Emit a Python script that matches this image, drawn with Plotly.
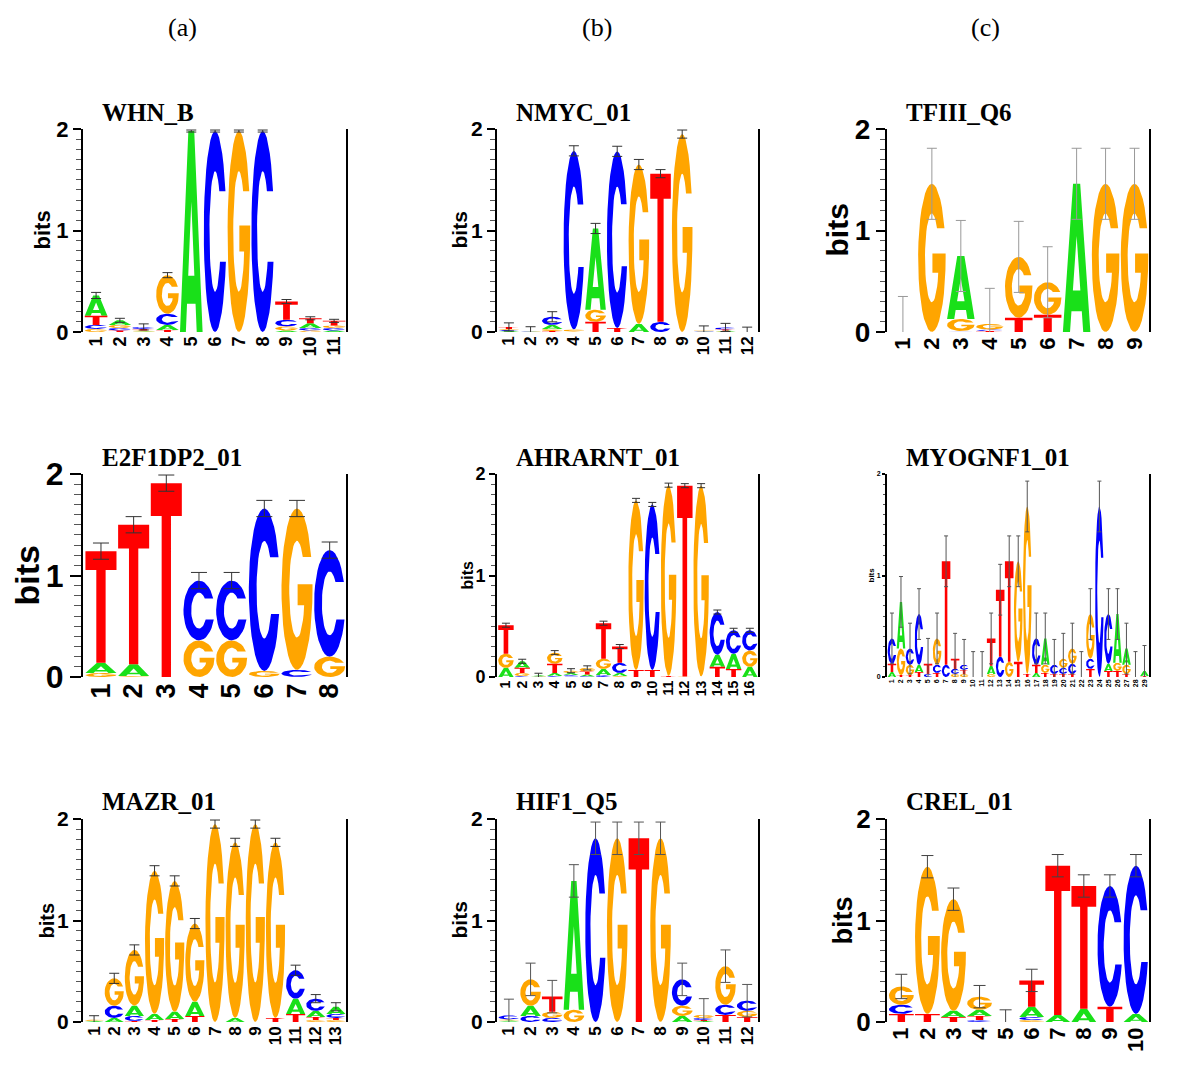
import numpy as np
import plotly.graph_objects as go

W, H = 1198, 1092          # reference picture size (pixels)
OFF = 8                    # browser body margin
FW, FH = W - OFF, H - OFF  # figure size

# ------------------------------------------------------------------ data
# heights (bits) of each letter at each position, plus error half-widths
WHN_B_A = [0.20, 0.045, 0.005, 0.05, 1.98, 0, 0, 0, 0.015, 0.045, 0.015]
WHN_B_C = [0.04, 0.025, 0.02, 0.11, 0, 1.98, 0, 1.98, 0.065, 0.025, 0.025]
WHN_B_G = [0.03, 0.03, 0.01, 0.38, 0, 0, 1.98, 0, 0.04, 0.015, 0.025]
WHN_B_T = [0.09, 0.015, 0.015, 0.02, 0, 0, 0, 0, 0.18, 0.05, 0.045]
WHN_B_ERR = [0.03, 0.02, 0.03, 0.025, 0.01, 0.01, 0.01, 0.01, 0.02, 0.015, 0.015]

NMYC_01_A = [0.01, 0.003, 0.04, 0, 0.80, 0, 0.08, 0, 0, 0.003, 0.01, 0.002]
NMYC_01_C = [0.01, 0.005, 0.08, 1.76, 0, 1.74, 0, 0.10, 0, 0.005, 0.02, 0.002]
NMYC_01_G = [0.01, 0.002, 0.02, 0.02, 0.12, 0, 1.57, 0, 1.95, 0.005, 0.005, 0.002]
NMYC_01_T = [0.02, 0.002, 0.01, 0.005, 0.10, 0.04, 0, 1.46, 0, 0.007, 0.01, 0.002]
NMYC_01_ERR = [0.04, 0.04, 0.05, 0.05, 0.05, 0.05, 0.05, 0.04, 0.04, 0.04, 0.04, 0.04]

TFIII_Q6_A = [0, 0, 0.62, 0, 0, 0, 1.46, 0, 0]
TFIII_Q6_C = [0, 0, 0.005, 0.015, 0, 0, 0, 0, 0]
TFIII_Q6_G = [0, 1.46, 0.12, 0.055, 0.60, 0.32, 0, 1.46, 1.46]
TFIII_Q6_T = [0, 0, 0.004, 0.01, 0.14, 0.17, 0, 0, 0]
TFIII_Q6_ERR = [0.35] * 9

E2F1DP2_01_A = [0.10, 0.115, 0, 0, 0, 0, 0, 0]
E2F1DP2_01_C = [0, 0, 0, 0.59, 0.59, 1.60, 0.07, 1.05]
E2F1DP2_01_G = [0.04, 0.01, 0, 0.36, 0.36, 0.06, 1.59, 0.20]
E2F1DP2_01_T = [1.10, 1.375, 1.91, 0, 0, 0, 0, 0]
E2F1DP2_01_ERR = [0.08] * 8

AHRARNT_01_A = [0.09, 0.065, 0.01, 0.03, 0.02, 0.02, 0.06, 0.03, 0, 0, 0, 0, 0, 0.12, 0.15, 0.10]
AHRARNT_01_C = [0, 0.01, 0.003, 0.01, 0.015, 0.005, 0.02, 0.10, 0, 1.63, 0, 0, 0, 0.42, 0.23, 0.20]
AHRARNT_01_G = [0.14, 0.03, 0.002, 0.11, 0.022, 0.035, 0.10, 0.01, 1.67, 0, 1.88, 0.005, 1.88, 0, 0, 0.16]
AHRARNT_01_T = [0.28, 0.05, 0.002, 0.09, 0.005, 0.03, 0.35, 0.16, 0.07, 0.07, 0.01, 1.88, 0.005, 0.10, 0.08, 0]
AHRARNT_01_ERR = [0.02] * 16

MYOGNF1_01_A = [0.05, 0.46, 0, 0.07, 0, 0, 0, 0, 0, 0, 0, 0.08, 0, 0, 0,
                0, 0.04, 0.26, 0, 0, 0, 0, 0, 0, 0.07, 0.48, 0.16, 0, 0.05]
MYOGNF1_01_C = [0.25, 0, 0.16, 0.50, 0.03, 0.08, 0.12, 0.05, 0.05, 0, 0, 0, 0.20, 0, 0,
                0, 0.26, 0, 0.09, 0.06, 0.10, 0, 0.10, 1.68, 0.49, 0, 0, 0, 0]
MYOGNF1_01_G = [0, 0.26, 0.10, 0, 0, 0.26, 0, 0.03, 0.03, 0, 0, 0.03, 0, 0.15, 0.99,
                1.65, 0, 0.08, 0, 0.09, 0.15, 0, 0.44, 0, 0, 0.08, 0.09, 0, 0]
MYOGNF1_01_T = [0.08, 0.02, 0.02, 0.05, 0.10, 0.04, 1.02, 0.10, 0.04, 0, 0, 0.27, 0.66, 0.99, 0.15,
                0.03, 0.08, 0.04, 0.03, 0.03, 0.03, 0, 0.08, 0, 0.06, 0.06, 0.03, 0, 0.01]
MYOGNF1_01_ERR = [0.25] * 29

MAZR_01_A = [0.01, 0.04, 0.10, 0.06, 0.07, 0.14, 0, 0.04, 0, 0, 0.15, 0.06, 0.07]
MAZR_01_C = [0, 0.12, 0.05, 0, 0, 0, 0, 0, 0, 0, 0.28, 0.12, 0.04]
MAZR_01_G = [0.01, 0.27, 0.55, 1.41, 1.29, 0.77, 1.95, 1.73, 1.95, 1.73, 0, 0.02, 0.02]
MAZR_01_T = [0.002, 0, 0.01, 0.02, 0.03, 0.06, 0, 0, 0, 0.04, 0.08, 0.03, 0.02]
MAZR_01_ERR = [0.04, 0.05, 0.05, 0.05, 0.05, 0.05, 0.04, 0.04, 0.04, 0.04, 0.05, 0.04, 0.04]

HIF1_Q5_A = [0.01, 0.10, 0, 1.27, 0, 0, 0, 0, 0.06, 0.01, 0, 0]
HIF1_Q5_C = [0.04, 0.06, 0.04, 0, 1.81, 0, 0, 0, 0.26, 0.02, 0.10, 0.10]
HIF1_Q5_G = [0.01, 0.26, 0.06, 0.12, 0, 1.81, 0, 1.81, 0.10, 0.03, 0.38, 0.06]
HIF1_Q5_T = [0.005, 0, 0.15, 0, 0, 0, 1.81, 0, 0, 0.01, 0.07, 0.05]
HIF1_Q5_ERR = [0.16] * 12

CREL_01_A = [0, 0, 0.06, 0.06, 0, 0.10, 0.07, 0.13, 0, 0.08]
CREL_01_C = [0.09, 0, 0, 0.02, 0, 0.03, 0, 0, 1.19, 1.46]
CREL_01_G = [0.18, 1.45, 1.10, 0.13, 0, 0.02, 0, 0, 0, 0]
CREL_01_T = [0.08, 0.08, 0.05, 0.04, 0, 0.26, 1.47, 1.21, 0.15, 0]
CREL_01_ERR = [0.12, 0.11, 0.11, 0.11, 0.12, 0.11, 0.11, 0.11, 0.11, 0.11]

PANEL_NAMES = ["WHN_B", "NMYC_01", "TFIII_Q6",
               "E2F1DP2_01", "AHRARNT_01", "MYOGNF1_01",
               "MAZR_01", "HIF1_Q5", "CREL_01"]
COLUMN_LABELS = ["(a)", "(b)", "(c)"]

DATA = {
    "WHN_B": (WHN_B_A, WHN_B_C, WHN_B_G, WHN_B_T, WHN_B_ERR),
    "NMYC_01": (NMYC_01_A, NMYC_01_C, NMYC_01_G, NMYC_01_T, NMYC_01_ERR),
    "TFIII_Q6": (TFIII_Q6_A, TFIII_Q6_C, TFIII_Q6_G, TFIII_Q6_T, TFIII_Q6_ERR),
    "E2F1DP2_01": (E2F1DP2_01_A, E2F1DP2_01_C, E2F1DP2_01_G, E2F1DP2_01_T, E2F1DP2_01_ERR),
    "AHRARNT_01": (AHRARNT_01_A, AHRARNT_01_C, AHRARNT_01_G, AHRARNT_01_T, AHRARNT_01_ERR),
    "MYOGNF1_01": (MYOGNF1_01_A, MYOGNF1_01_C, MYOGNF1_01_G, MYOGNF1_01_T, MYOGNF1_01_ERR),
    "MAZR_01": (MAZR_01_A, MAZR_01_C, MAZR_01_G, MAZR_01_T, MAZR_01_ERR),
    "HIF1_Q5": (HIF1_Q5_A, HIF1_Q5_C, HIF1_Q5_G, HIF1_Q5_T, HIF1_Q5_ERR),
    "CREL_01": (CREL_01_A, CREL_01_C, CREL_01_G, CREL_01_T, CREL_01_ERR),
}

# ------------------------------------------------------------------ style
COLORS = {"A": "#19E019", "C": "#0000FF", "G": "#FFA500", "T": "#FF0000"}
LETTERS = ["A", "C", "G", "T"]

# pixel layout of plot areas (reference picture coordinates)
COL_X = [(83, 346), (497, 758), (887, 1149)]
ROW_Y = [(129, 332), (474, 677), (819, 1022)]
TITLE_Y = [113, 457, 801]
HEADER_X = [182, 597, 985]
HEADER_Y = 27

# per-panel: ytick size, xtick size, bits size, bits offset, err color, cap, ticklen
STYLE = {
    "WHN_B":      (22, 18, 22, 41, "#333333", 5, 8),
    "NMYC_01":    (21, 17, 21, 38, "#333333", 5, 8),
    "TFIII_Q6":   (28, 22, 30, 50, "#999999", 5, 9),
    "E2F1DP2_01": (32, 27, 34, 57, "#333333", 8, 11),
    "AHRARNT_01": (18, 14, 16, 30, "#333333", 4, 6),
    "MYOGNF1_01": (7, 7, 8, 16, "#555555", 2, 3),
    "MAZR_01":    (21, 17, 20, 37, "#333333", 5, 8),
    "HIF1_Q5":    (21, 17, 21, 38, "#555555", 5, 8),
    "CREL_01":    (26, 22, 27, 45, "#444444", 6, 9),
}

SANS = "Liberation Sans, Arial, sans-serif"
SERIF = "Liberation Serif, Times New Roman, serif"


def px_x(px):
    return (px - OFF) / FW


def px_y(py):
    return 1 - (py - OFF) / FH


# ------------------------------------------------------------------ glyphs
def arc(cx, cy, rx, ry, a0, a1, n=36):
    t = np.radians(np.linspace(a0, a1, n))
    return list(zip(cx + rx * np.cos(t), cy + ry * np.sin(t)))


def glyph(letter):
    """Outline of a letter in the unit square (u right, v up)."""
    if letter == "T":
        return [(0, 1), (1, 1), (1, 0.83), (0.65, 0.83), (0.65, 0),
                (0.35, 0), (0.35, 0.83), (0, 0.83), (0, 1)]
    if letter == "A":
        outer = [(0, 0), (0.37, 1), (0.63, 1), (1, 0), (0.74, 0), (0.688, 0.14),
                 (0.312, 0.14), (0.26, 0), (0, 0)]
        hole = [(0.364, 0.28), (0.636, 0.28), (0.5, 0.648), (0.364, 0.28)]
        return outer + hole + [(0, 0)]
    rxo, ryo, rxi, ryi = 0.5, 0.5, 0.25, 0.3
    up_o = np.degrees(np.arcsin(0.20 / ryo))
    up_i = np.degrees(np.arcsin(0.20 / ryi))
    if letter == "C":
        lo_o = 360 - np.degrees(np.arcsin(0.15 / ryo))
        lo_i = 360 - np.degrees(np.arcsin(0.15 / ryi))
        pts = arc(0.5, 0.5, rxo, ryo, up_o, lo_o)
        pts += arc(0.5, 0.5, rxi, ryi, lo_i, up_i)
        pts.append(pts[0])
        return pts
    # G
    pts = arc(0.5, 0.5, rxo, ryo, up_o, 360)
    pts += [(1.0, 0.53), (0.52, 0.53), (0.52, 0.40), (0.73, 0.40)]
    phi = 360 - np.degrees(np.arccos(0.23 / rxi))
    pts += arc(0.5, 0.5, rxi, ryi, phi, up_i)
    pts.append(pts[0])
    return pts


GLYPHS = {L: glyph(L) for L in LETTERS}
LETTER_W = 0.95

# ------------------------------------------------------------------ figure
fig = go.Figure()
annotations = []
layout_axes = {}

for idx, name in enumerate(PANEL_NAMES):
    row, col = divmod(idx, 3)
    A, C, G, T, ERR = DATA[name]
    heights = {"A": A, "C": C, "G": G, "T": T}
    n = len(A)
    positions = list(range(1, n + 1))
    ytf, xtf, bitsf, bitsoff, errc, cap, tlen = STYLE[name]
    sfx = "" if idx == 0 else str(idx + 1)
    xa, ya = "x" + sfx, "y" + sfx

    # stack letters (smallest at bottom)
    paths = {L: ([], []) for L in LETTERS}
    totals = []
    for i, p in enumerate(positions):
        col_h = sorted([(heights[L][i], L) for L in LETTERS])
        base = 0.0
        for h, L in col_h:
            if h > 0:
                xs, ys = paths[L]
                for u, v in GLYPHS[L]:
                    xs.append(p - LETTER_W / 2 + u * LETTER_W)
                    ys.append(base + v * h)
                xs.append(None)
                ys.append(None)
            base += h
        totals.append(base)

    for L in LETTERS:
        xs, ys = paths[L]
        if xs:
            fig.add_trace(go.Scatter(
                x=xs, y=ys, mode="lines", fill="toself",
                fillcolor=COLORS[L], line=dict(width=0, color=COLORS[L]),
                hoverinfo="skip", showlegend=False, xaxis=xa, yaxis=ya))

    fig.add_trace(go.Scatter(
        x=positions, y=totals, mode="markers",
        marker=dict(size=1, color="rgba(0,0,0,0)"),
        error_y=dict(type="data", array=ERR, color=errc, thickness=1, width=cap),
        cliponaxis=False, hoverinfo="skip", showlegend=False,
        xaxis=xa, yaxis=ya))

    x0, x1 = COL_X[col]
    y0, y1 = ROW_Y[row]
    layout_axes["xaxis" + sfx] = dict(
        domain=[px_x(x0), px_x(x1)], range=[0.45, n + 0.5], anchor=ya,
        tickmode="array", tickvals=positions, ticktext=[str(p) for p in positions],
        tickangle=-90, showline=False, ticks="", showgrid=False, zeroline=False,
        automargin=False,
        tickfont=dict(family=SANS, size=xtf, color="black", weight="bold"),
        fixedrange=True)
    layout_axes["yaxis" + sfx] = dict(
        domain=[px_y(y1), px_y(y0)], range=[0, 2], anchor=xa,
        tickmode="array", tickvals=[0, 1, 2], ticktext=["0", "1", "2"],
        ticks="outside", ticklen=tlen, tickwidth=2, tickcolor="black",
        showline=True, linewidth=2, linecolor="black", mirror=True,
        showgrid=False, zeroline=False, automargin=False,
        minor=dict(tickmode="array",
                   tickvals=[k / 10 for k in range(1, 20) if k != 10],
                   ticks="outside", ticklen=max(2, round(tlen * 0.6)),
                   tickcolor="#555555", tickwidth=1),
        tickfont=dict(family=SANS, size=ytf, color="black", weight="bold"),
        fixedrange=True)

    # panel title
    annotations.append(dict(
        text=name, xref="paper", yref="paper", x=px_x(x0 + 17),
        y=px_y(TITLE_Y[row]), xanchor="left", yanchor="middle",
        showarrow=False,
        font=dict(family=SERIF, size=25, color="black", weight="bold")))
    # y-axis label
    annotations.append(dict(
        text="bits", xref="paper", yref="paper", x=px_x(x0 - bitsoff),
        y=px_y((y0 + y1) / 2), xanchor="center", yanchor="middle",
        textangle=-90, showarrow=False,
        font=dict(family=SANS, size=bitsf, color="black", weight="bold")))

for c, lab in enumerate(COLUMN_LABELS):
    annotations.append(dict(
        text=lab, xref="paper", yref="paper", x=px_x(HEADER_X[c]), y=px_y(HEADER_Y),
        xanchor="center", yanchor="middle", showarrow=False,
        font=dict(family=SERIF, size=26, color="black")))

fig.update_layout(
    width=FW, height=FH,
    margin=dict(l=0, r=0, t=0, b=0, pad=0, autoexpand=False),
    paper_bgcolor="white", plot_bgcolor="white",
    annotations=annotations, showlegend=False, **layout_axes)

fig.write_html("out.html")
